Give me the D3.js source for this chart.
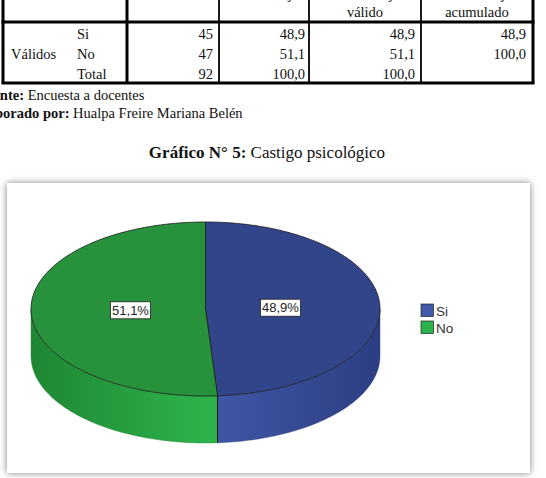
<!DOCTYPE html>
<html><head><meta charset="utf-8">
<script src="https://cdn.jsdelivr.net/npm/d3@7"></script>
<style>body{margin:0;background:#fff;overflow:hidden}</style>
</head><body>
<script>
// ---- data ----
const categories = ["Si", "No"];
const frequencies = [45, 47];
const percents = [48.9, 51.1];
const validPercents = [48.9, 51.1];
const cumulativePercents = [48.9, 100.0];
const totalLabel = "Total";
const totalFrequency = 92;
const totalPercent = 100.0;
const totalValidPercent = 100.0;
const groupLabel = "Válidos";
const headerTop = ["", "", "Porcentaje", "Porcentaje", "Porcentaje"];
const headerSub = ["", "", "", "válido", "acumulado"];
const sourceText = ["Fuente:", " Encuesta a docentes"];
const authorText = ["Elaborado por:", " Hualpa Freire Mariana Belén"];
const titleBold = "Gráfico N° 5:";
const titleRest = " Castigo psicológico";
const topColors = ["#33458a", "#27913c"];
const sideLight = ["#4159a9", "#2db34c"];
const sideDark = ["#2c3d82", "#1f8633"];

const fmt = v => v.toFixed(1).replace(".", ",");
const W = 546, H = 478;
const svg = d3.select("body").append("svg").attr("width", W).attr("height", H);
const serif = "'Liberation Serif','Times New Roman',serif";
const sans = "'Liberation Sans',Arial,sans-serif";

// ---- table ----
const colX = [3, 127, 219, 309, 421, 533];
const tTop = -10, hLine = 22, tBottom = 83;
const tg = svg.append("g");
// header (cut off)
headerTop.forEach((t, i) => {
  if (!t) return;
  tg.append("text").attr("x", (colX[i] + colX[i+1]) / 2 + 4).attr("y", -1)
    .attr("text-anchor", "middle").attr("font-family", serif).attr("font-size", 14.5).text(t);
});
headerSub.forEach((t, i) => {
  if (!t) return;
  tg.append("text").attr("x", (colX[i] + colX[i+1]) / 2).attr("y", 16.5)
    .attr("text-anchor", "middle").attr("font-family", serif).attr("font-size", 14.5).attr("fill", "#111").text(t);
});
// rows
const rowY = [38.5, 58.5, 78.5];
const rows = categories.map((c, i) => [c, frequencies[i], fmt(percents[i]), fmt(validPercents[i]), fmt(cumulativePercents[i])]);
rows.push([totalLabel, totalFrequency, fmt(totalPercent), fmt(totalValidPercent), ""]);
const numRight = [213, 305, 415, 526];
rows.forEach((r, ri) => {
  tg.append("text").attr("x", 77).attr("y", rowY[ri]).attr("font-family", serif).attr("font-size", 14.5).attr("fill", "#111").text(r[0]);
  r.slice(1).forEach((v, ci) => {
    tg.append("text").attr("x", numRight[ci]).attr("y", rowY[ri]).attr("text-anchor", "end")
      .attr("font-family", serif).attr("font-size", 14.5).attr("fill", "#111").text(v);
  });
});
tg.append("text").attr("x", 11).attr("y", rowY[1]).attr("font-family", serif).attr("font-size", 14.5).attr("fill", "#111").text(groupLabel);
// lines
const thick = 3, thin = 1.8;
[[colX[0], thick], [colX[1], thick], [colX[2], thin], [colX[3], thin], [colX[4], thin], [colX[5], thick]].forEach(([x, w]) => {
  tg.append("line").attr("x1", x).attr("x2", x).attr("y1", tTop).attr("y2", tBottom).attr("stroke", "#000").attr("stroke-width", w);
});
[hLine, tBottom].forEach(y => {
  tg.append("line").attr("x1", colX[0] - 1.5).attr("x2", colX[5] + 1.5).attr("y1", y).attr("y2", y).attr("stroke", "#000").attr("stroke-width", thick);
});
// source lines
function mixed(x, y, parts, size) {
  const t = svg.append("text").attr("x", x).attr("y", y).attr("font-family", serif).attr("font-size", size).attr("fill", "#111");
  t.append("tspan").attr("font-weight", "bold").text(parts[0]);
  t.append("tspan").attr("xml:space", "preserve").text(parts[1]);
  return t;
}
mixed(-23.5, 99.5, sourceText, 14.5);
mixed(-26, 117.5, authorText, 14.5);
// title
mixed(267, 157.5, [titleBold, titleRest], 17).attr("text-anchor", "middle");

// ---- chart frame ----
const defs = svg.append("defs");
const f = defs.append("filter").attr("id", "sh").attr("x", "-10%").attr("y", "-10%").attr("width", "120%").attr("height", "120%");
f.append("feDropShadow").attr("dx", 0).attr("dy", 0).attr("stdDeviation", 3.5).attr("flood-color", "#000").attr("flood-opacity", 0.5);
svg.append("rect").attr("x", 7).attr("y", 183).attr("width", 523).attr("height", 290).attr("fill", "#fff").attr("filter", "url(#sh)");

// ---- 3D pie ----
const cx = 205.5, cy = 309, rx = 174.5, ry = 87, depth = 47;
const pie = d3.pie().sort(null).value(d => d)(percents);
const pt = (a, dy = 0) => [cx + rx * Math.sin(a), cy - ry * Math.cos(a) + dy];
const arcPts = (a0, a1, dy = 0) => {
  const n = Math.max(2, Math.ceil(Math.abs(a1 - a0) / 0.02));
  return d3.range(n + 1).map(i => pt(a0 + (a1 - a0) * i / n, dy));
};
const line = d3.line();

categories.forEach((c, i) => {
  const g = defs.append("linearGradient").attr("id", "side" + i).attr("gradientUnits", "userSpaceOnUse")
    .attr("x1", cx - rx).attr("x2", cx + rx).attr("y1", 0).attr("y2", 0);
  if (i === 1) {
    g.append("stop").attr("offset", 0).attr("stop-color", sideDark[i]);
    g.append("stop").attr("offset", 0.5).attr("stop-color", sideLight[i]);
    g.append("stop").attr("offset", 1).attr("stop-color", sideLight[i]);
  } else {
    g.append("stop").attr("offset", 0).attr("stop-color", sideLight[i]);
    g.append("stop").attr("offset", 0.5).attr("stop-color", sideLight[i]);
    g.append("stop").attr("offset", 1).attr("stop-color", sideDark[i]);
  }
});

const pg = svg.append("g");
// side walls
pie.forEach((s, i) => {
  const b0 = Math.max(s.startAngle, Math.PI / 2), b1 = Math.min(s.endAngle, 3 * Math.PI / 2);
  if (b1 <= b0) return;
  const pts = arcPts(b0, b1).concat(arcPts(b1, b0, depth));
  pg.append("path").attr("d", line(pts) + "Z").attr("fill", `url(#side${i})`)
    .attr("stroke", sideDark[i]).attr("stroke-width", 0.4);
});
// visible boundary lines on side
pie.forEach(s => {
  const a = s.endAngle % (2 * Math.PI);
  if (a > Math.PI / 2 && a < 3 * Math.PI / 2) {
    const [x, y] = pt(a);
    pg.append("line").attr("x1", x).attr("x2", x).attr("y1", y).attr("y2", y + depth).attr("stroke", "#111").attr("stroke-width", 1);
  }
});
// top faces
pie.forEach((s, i) => {
  const pts = [[cx, cy]].concat(arcPts(s.startAngle, s.endAngle));
  pg.append("path").attr("d", line(pts) + "Z").attr("fill", topColors[i])
    .attr("stroke", "#1a1a1a").attr("stroke-width", 0.8).attr("stroke-linejoin", "round");
});
// labels
pie.forEach((s, i) => {
  const m = (s.startAngle + s.endAngle) / 2;
  const x = cx + 0.43 * rx * Math.sin(m), y = cy - 0.43 * ry * Math.cos(m);
  const lbl = fmt(percents[i]) + "%";
  const bw = 40, bh = 17;
  pg.append("rect").attr("x", x - bw / 2).attr("y", y - bh / 2).attr("width", bw).attr("height", bh)
    .attr("fill", "#fff").attr("stroke", "#222").attr("stroke-width", 0.8);
  pg.append("text").attr("x", x).attr("y", y + 4.6).attr("text-anchor", "middle")
    .attr("font-family", sans).attr("font-size", 13).attr("fill", "#222").text(lbl);
});
// legend
const lg = svg.append("g").attr("transform", "translate(421,304)");
categories.forEach((c, i) => {
  lg.append("rect").attr("x", 0).attr("y", i * 17).attr("width", 12.5).attr("height", 12.5)
    .attr("fill", sideLight[i]).attr("stroke", "#222").attr("stroke-width", 0.7);
  lg.append("text").attr("x", 15).attr("y", i * 17 + 12).attr("font-family", sans).attr("font-size", 13.5)
    .attr("fill", "#333").text(c);
});
</script>
</body></html>
